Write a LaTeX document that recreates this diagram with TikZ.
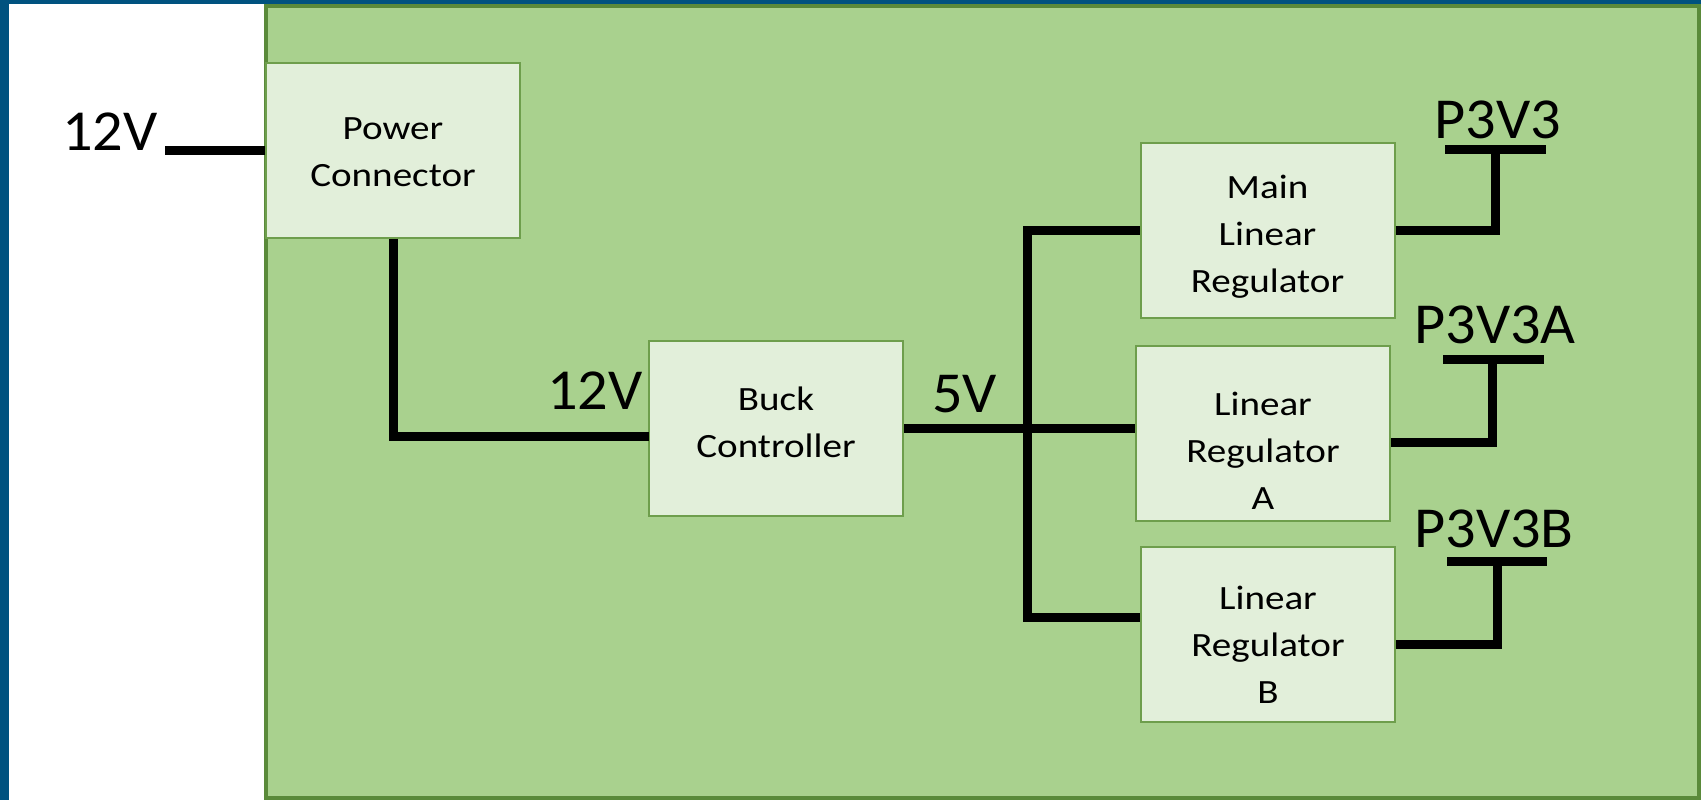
\documentclass[tikz,border=0pt]{standalone}
\usepackage{fontspec}
\setmainfont{Carlito}
\newfontfamily\boxfont[FakeStretch=1.15]{Carlito}
\newfontfamily\labfont[FakeStretch=1.04]{Carlito}
\definecolor{frameblue}{HTML}{00527F}
\definecolor{panelfill}{HTML}{A9D18E}
\definecolor{panelline}{HTML}{5A8A3A}
\definecolor{boxfill}{HTML}{E2EFDA}
\definecolor{boxline}{HTML}{6E9E4C}
\tikzset{
  blockbox/.style={draw=boxline, line width=1pt, fill=boxfill, minimum width=127pt, minimum height=87.5pt, inner sep=0pt},
  boxtext/.style={inner sep=0pt, align=center, font=\boxfont\fontsize{17}{23.5}\selectfont},
  wire/.style={line width=4.5pt, black},
  biglabel/.style={inner sep=0pt, font=\labfont\fontsize{29}{34}\selectfont}
}
\begin{document}
\begin{tikzpicture}[x=0.5pt,y=-0.5pt]
\useasboundingbox (0,0) rectangle (1701,800);
% background
\fill[frameblue] (0,0) rectangle (1701,800);
\fill[white] (9,4) rectangle (264,800);
\draw[panelline, fill=panelfill, line width=2pt] (266,6) rectangle (1699,798);

% blocks
\node[blockbox] (pc) at (393,150) {};
\node[blockbox] (buck) at (776,428.5) {};
\node[blockbox] (mlr) at (1267.5,230) {};
\node[blockbox] (lra) at (1263,433.5) {};
\node[blockbox] (lrb) at (1268,634.5) {};
\node[boxtext] (pct) at ([yshift=-1pt]pc.center) {Power\\Connector};
\node[boxtext] (buckt) at ([yshift=3.2pt]buck.center) {Buck\\Controller};
\node[boxtext] (mlrt) at ([yshift=-3.2pt]mlr.center) {Main\\Linear\\Regulator};
\node[boxtext] (lrat) at ([yshift=-8.5pt]lra.center) {Linear\\Regulator\\A};
\node[boxtext] (lrbt) at ([yshift=-5pt]lrb.center) {Linear\\Regulator\\B};

% labels
\node[biglabel, anchor=base east] (l12a) at (158,150) {12V};
\node[biglabel, anchor=base east] (l12b) at (643,409) {12V};
\node[biglabel, anchor=base west] (l5) at (932,412) {5V};
\node[biglabel, anchor=base] (lp1) at (1498,138) {P3V3};
\node[biglabel, anchor=base] (lp2) at (1495,343) {P3V3A};
\node[biglabel, anchor=base] (lp3) at (1494,547) {P3V3B};

% coordinates
\coordinate (in12) at (165,150);
\coordinate (c12) at (649,436);
\coordinate (bt) at (1027,230);
\coordinate (bb) at (1027,617);
\coordinate (t1) at (1495,149);
\coordinate (t1l) at (1445,149);
\coordinate (t1r) at (1546,149);
\coordinate (o2) at (1492,442);
\coordinate (t2) at (1492,359);
\coordinate (t2l) at (1443,359);
\coordinate (t2r) at (1544,359);
\coordinate (o3) at (1497,644);
\coordinate (t3) at (1497,561);
\coordinate (t3l) at (1447,561);
\coordinate (t3r) at (1547,561);

% wires
\draw[wire] (in12) -- (pc.west);
\draw[wire] (pc.south) -- (pc.south |- c12) -- (c12);
\draw[wire] (buck.east) -- (buck.east -| lra.west);
\draw[wire] (mlr.west) -- (bt) -- (bb) -- (bb -| lrb.west);
\draw[wire] (mlr.east) -| (t1);
\draw[wire] (t1l) -- (t1r);
\draw[wire] (o2 -| lra.east) -- (o2) -- (t2);
\draw[wire] (t2l) -- (t2r);
\draw[wire] (o3 -| lrb.east) -- (o3) -- (t3);
\draw[wire] (t3l) -- (t3r);
\end{tikzpicture}
\end{document}
